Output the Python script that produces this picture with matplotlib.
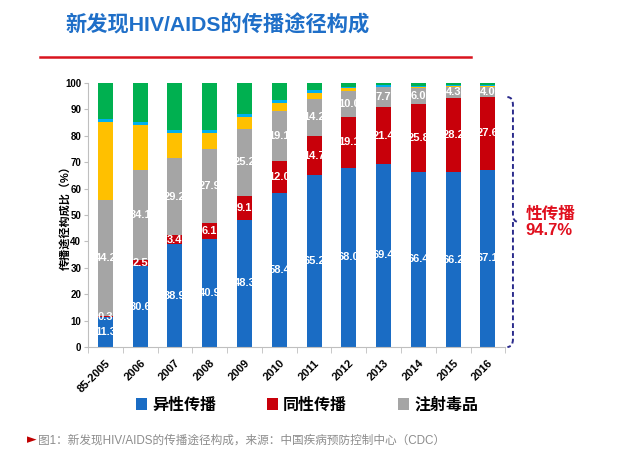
import matplotlib
matplotlib.use("Agg")
import matplotlib.pyplot as plt
from matplotlib.path import Path
from matplotlib.patches import PathPatch, Patch
import numpy as np

plt.rcParams['font.family'] = ['Liberation Sans', 'Noto Sans CJK SC', 'DejaVu Sans']

years = ["85-2005", "2006", "2007", "2008", "2009", "2010", "2011", "2012", "2013", "2014", "2015", "2016"]
hetero = [11.3, 30.6, 38.9, 40.9, 48.3, 58.4, 65.2, 68.0, 69.4, 66.4, 66.2, 67.1]
homo = [0.3, 2.5, 3.4, 6.1, 9.1, 12.0, 14.7, 19.1, 21.4, 25.8, 28.2, 27.6]
idu = [44.2, 34.1, 29.2, 27.9, 25.2, 19.1, 14.2, 10.0, 7.7, 6.0, 4.3, 4.0]
blood = [29.5, 16.8, 9.5, 6.1, 4.4, 3.0, 2.3, 1.0, 0.2, 0.2, 0.1, 0.1]
mtct = [1.0, 1.3, 1.2, 1.1, 1.2, 1.0, 0.8, 0.5, 0.6, 0.5, 0.6, 0.5]
other = [13.7, 14.7, 17.8, 17.9, 11.8, 6.5, 2.8, 1.4, 0.7, 1.1, 0.6, 0.7]

legend_labels = ["异性传播", "同性传播", "注射毒品"]
label_series = [hetero, homo, idu]

colors = ["#1A6CC4", "#C8000A", "#A5A5A5", "#FFC000", "#00B0F0", "#00B050"]
series = [hetero, homo, idu, blood, mtct, other]

fig = plt.figure(figsize=(6.2, 4.59), dpi=100)
ax = fig.add_axes([0.142, 0.244, 0.673, 0.575])

x = np.arange(len(years))
bottom = np.zeros(len(years))
w = 0.43
for vals, c in zip(series, colors):
    vals = np.array(vals)
    ax.bar(x, vals, w, bottom=bottom, color=c, edgecolor="none", zorder=2)
    bottom += vals

# value labels (white, bold) on first three series
bottom = np.zeros(len(years))
for vals in label_series:
    vals = np.array(vals)
    for xi, b, v in zip(x, bottom, vals):
        ax.text(xi, b + v / 2, f"{v:.1f}", color="white", fontsize=8,
                fontweight="bold", ha="center", va="center", zorder=3)
    bottom += vals

ax.set_xlim(-0.5, len(years) - 0.5)
ax.set_ylim(0, 100)
ax.set_yticks(np.arange(0, 101, 10))
ax.set_yticklabels([str(v) for v in range(0, 101, 10)], fontsize=7, fontweight="bold")
ax.set_xticks(x)
ax.set_xticklabels(years, rotation=45, ha="right", va="top", rotation_mode="anchor",
                   fontsize=8, fontweight="bold")
ax.set_xticks(np.arange(-0.5, len(years), 1), minor=True)
ax.tick_params(axis="x", which="major", length=0, pad=8)
ax.tick_params(axis="x", which="minor", length=4, color="#BFBFBF")
ax.tick_params(axis="y", length=3, color="#BFBFBF", pad=2)
for s in ["top", "right"]:
    ax.spines[s].set_visible(False)
ax.spines["left"].set_color("#BFBFBF")
ax.spines["bottom"].set_color("#BFBFBF")
ax.set_ylabel("传播途径构成比（%）", fontsize=8, fontweight="bold", labelpad=-4)

# curly brace annotation
top = hetero[-1] + homo[-1]
bx = len(years) - 0.5 + 0.22
mid = top / 2
dx = 0.16
verts = [
    (bx - dx, top), (bx, top), (bx, top - 3),
    (bx, mid + 3),
    (bx, mid), (bx + dx, mid),
    (bx, mid), (bx, mid - 3),
    (bx, 3),
    (bx, 0), (bx - dx, 0),
]
codes = [Path.MOVETO, Path.CURVE3, Path.CURVE3, Path.LINETO,
         Path.CURVE3, Path.CURVE3, Path.MOVETO, Path.CURVE3, Path.LINETO,
         Path.CURVE3, Path.CURVE3]
brace = PathPatch(Path(verts, codes), facecolor="none", edgecolor="#2B2B8C",
                  linestyle=(0, (2.5, 1.5)), lw=1.4, clip_on=False)
ax.add_patch(brace)
ax.text(bx + 0.36, mid, f"性传播\n{top:.1f}%", color="#E0101E", fontsize=12,
        fontweight="bold", ha="left", va="center", linespacing=1.1)

# title and red rule
fig.text(0.105, 0.945, "新发现HIV/AIDS的传播途径构成", color="#1F6FC8", fontsize=15.3,
         fontweight="bold", ha="left", va="center")
fig.add_artist(plt.Line2D([0.065, 0.76], [0.876, 0.876], color="#D9141E", lw=1.8))

# legend
handles = [Patch(facecolor=c, edgecolor="none") for c in colors[:3]]
leg = fig.legend(handles, legend_labels, loc="center", bbox_to_anchor=(0.495, 0.118),
                 ncol=3, frameon=False, fontsize=11.5, handlelength=0.7,
                 handleheight=0.7, handletextpad=0.3, columnspacing=3.2)
for t in leg.get_texts():
    t.set_fontweight("bold")

# caption
fig.text(0.044, 0.042, "►", color="#C00000", fontsize=9, ha="left", va="center",
         family="DejaVu Sans")
fig.text(0.062, 0.041, "图1：新发现HIV/AIDS的传播途径构成，来源：中国疾病预防控制中心（CDC）",
         color="#8C8C8C", fontsize=8.4, ha="left", va="center")

fig.savefig("out.png", dpi=100)
